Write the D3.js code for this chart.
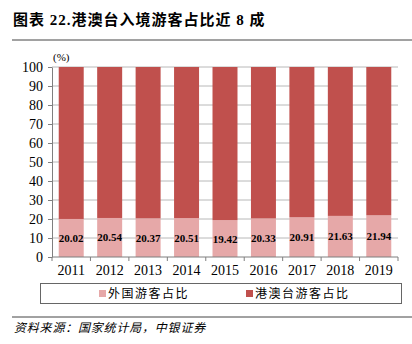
<!DOCTYPE html>
<html><head><meta charset="utf-8">
<script src="https://cdn.jsdelivr.net/npm/d3@7"></script>
<style>body{margin:0;background:#fff}svg{display:block}</style>
</head><body>
<svg id="c" width="412" height="344"></svg>
<script>
const years = ["2011","2012","2013","2014","2015","2016","2017","2018","2019"];
const foreignShare = [20.02,20.54,20.37,20.51,19.42,20.33,20.91,21.63,21.94];
const hmtShare = foreignShare.map(v => +(100 - v).toFixed(2));
const yTicks = [0,10,20,30,40,50,60,70,80,90,100];
const seriesNames = ["外国游客占比","港澳台游客占比"];
const colors = ["#E6A8A8","#C0504D"];

const svg = d3.select("#c");
const serif = "'Liberation Serif','DejaVu Serif',serif";
const cjk = "'Noto Sans CJK SC',sans-serif";

// title
svg.append("text").attr("x",13).attr("y",25).attr("font-family",serif+","+cjk)
  .attr("font-weight","bold").attr("font-size",15).attr("letter-spacing",1).attr("fill","#000")
  .text("图表 22.港澳台入境游客占比近 8 成");
svg.append("line").attr("x1",12).attr("x2",412).attr("y1",40).attr("y2",40)
  .attr("stroke","#444").attr("stroke-width",1);

const x = d3.scaleBand().domain(years).range([52,398]).paddingInner(0.35).paddingOuter(0.175);
const y = d3.scaleLinear().domain([0,100]).range([257,67]);

// gridlines
svg.append("g").selectAll("line").data(yTicks.slice(1)).join("line")
  .attr("x1",52).attr("x2",398).attr("y1",d=>y(d)).attr("y2",d=>y(d))
  .attr("stroke","#a6a6a6").attr("stroke-width",0.8);

// bars
const g = svg.append("g");
g.selectAll("rect.f").data(years).join("rect").attr("class","f")
  .attr("x",d=>x(d)).attr("width",x.bandwidth())
  .attr("y",(d,i)=>y(foreignShare[i])).attr("height",(d,i)=>y(0)-y(foreignShare[i]))
  .attr("fill",colors[0]);
g.selectAll("rect.h").data(years).join("rect").attr("class","h")
  .attr("x",d=>x(d)).attr("width",x.bandwidth())
  .attr("y",(d,i)=>y(100)).attr("height",(d,i)=>y(foreignShare[i])-y(100))
  .attr("fill",colors[1]);

// labels
g.selectAll("text.lbl").data(years).join("text").attr("class","lbl")
  .attr("x",d=>x(d)+x.bandwidth()/2).attr("y",(d,i)=>y(foreignShare[i]/2)+4)
  .attr("text-anchor","middle").attr("font-family",serif).attr("font-weight","bold")
  .attr("font-size",11).attr("fill","#000").text((d,i)=>foreignShare[i].toFixed(2));

// y axis
const ya = svg.append("g").attr("transform","translate(52,0)")
  .call(d3.axisLeft(y).tickValues(yTicks).tickSize(4).tickSizeOuter(0));
ya.select(".domain").attr("stroke","#7f7f7f");
ya.selectAll(".tick line").attr("stroke","#7f7f7f");
ya.selectAll("text").attr("font-family",serif).attr("font-size",14).attr("fill","#000").attr("dx","-2");

// x axis
const xa = svg.append("g").attr("transform","translate(0,257)");
xa.append("line").attr("x1",52).attr("x2",398).attr("stroke","#7f7f7f");
const bounds = years.map(d=>x(d)-x.step()*x.paddingInner()/2).concat([398]);
xa.selectAll("line.t").data(bounds).join("line").attr("class","t")
  .attr("x1",d=>d).attr("x2",d=>d).attr("y1",0).attr("y2",4).attr("stroke","#7f7f7f");
xa.selectAll("text").data(years).join("text")
  .attr("x",d=>x(d)+x.bandwidth()/2).attr("y",18).attr("text-anchor","middle")
  .attr("font-family",serif).attr("font-size",14).attr("fill","#000").text(d=>d);

// unit
svg.append("text").attr("x",53).attr("y",61).attr("font-family",serif).attr("font-size",11)
  .attr("fill","#000").text("(%)");

// legend
svg.append("rect").attr("x",40.5).attr("y",283.5).attr("width",361).attr("height",20)
  .attr("fill","none").attr("stroke","#666").attr("stroke-width",1);
const lx = [99,246];
seriesNames.forEach((n,i)=>{
  svg.append("rect").attr("x",lx[i]).attr("y",290).attr("width",7).attr("height",7).attr("fill",colors[i]);
  svg.append("text").attr("x",lx[i]+9).attr("y",298).attr("font-family",cjk).attr("font-size",12)
    .attr("letter-spacing",1.5).attr("fill","#000").text(n);
});

// source
svg.append("line").attr("x1",12).attr("x2",412).attr("y1",317).attr("y2",317)
  .attr("stroke","#444").attr("stroke-width",1);
svg.append("text").attr("x",14).attr("y",332).attr("font-family",cjk).attr("font-style","italic")
  .attr("font-size",12).attr("letter-spacing",0.8).attr("fill","#000").text("资料来源：国家统计局，中银证券");
</script>
</body></html>
